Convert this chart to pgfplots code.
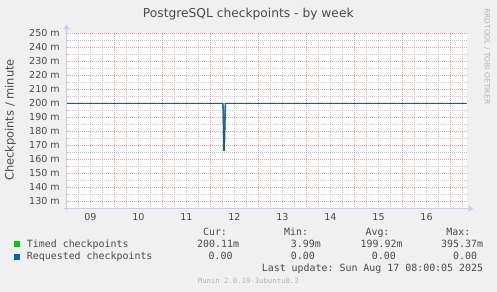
\documentclass[border=0pt]{standalone}
\usepackage{fontspec}
\setmainfont{DejaVu Sans}
\newfontfamily\mono{DejaVu Sans Mono}
\usepackage{pgfplots}
\pgfplotsset{compat=1.18}
\usetikzlibrary{arrows.meta}
\definecolor{bg}{HTML}{F0F0F0}
\definecolor{txt}{HTML}{4A4A4A}
\definecolor{ltxt}{HTML}{B4B4B4}
\definecolor{axiscol}{HTML}{C8C8FF}
\definecolor{majgrid}{HTML}{F49C9C}
\definecolor{mingrid}{HTML}{C8C8C8}
\definecolor{timed}{HTML}{00CC00}
\definecolor{req}{HTML}{0066B3}
\definecolor{linecol}{HTML}{235A8C}
\definecolor{spike}{HTML}{1E8C8C}
\tikzset{dotgrid/.style={line width=1bp, dash pattern=on 1bp off 1bp, dash phase=0.5bp}}
\begin{document}
\begin{tikzpicture}
\fill[bg] (0,0) rectangle (497bp,292bp);
\useasboundingbox (0,0) rectangle (497bp,292bp);
\begin{axis}[
  at={(66.5bp,83.5bp)}, anchor=south west,
  scale only axis, width=400bp, height=175bp,
  xmin=0, xmax=200, ymin=125, ymax=250,
  axis line style={draw=none},
  axis background/.style={fill=white},
  major tick length=0pt, minor tick length=0pt,
  xtick={12,36,60,84,108,132,156,180},
  xticklabels={09,10,11,12,13,14,15,16},
  ytick={130,140,150,160,170,180,190,200,210,220,230,240,250},
  yticklabels={130 m,140 m,150 m,160 m,170 m,180 m,190 m,200 m,210 m,220 m,230 m,240 m,250 m},
  xticklabel style={anchor=mid, yshift=-8.8bp, inner sep=0pt, font=\fontsize{9.6}{11}\selectfont, text=txt},
  yticklabel style={anchor=mid east, xshift=-6.5bp, inner sep=0pt, font=\fontsize{9.6}{11}\selectfont, text=txt},
  clip=false,
]
\pgfplotsinvokeforeach{6,12,18,30,36,42,54,60,66,78,84,90,102,108,114,126,132,138,150,156,162,174,180,186,198}{
  \draw[mingrid, dotgrid] (axis cs:#1,125) -- (axis cs:#1,250);}
\pgfplotsinvokeforeach{135,145,155,165,175,185,195,205,215,225,235,245}{
  \draw[mingrid, dotgrid] (axis cs:0,#1) -- (axis cs:200,#1);}
\pgfplotsinvokeforeach{24,48,72,96,120,144,168,192}{
  \draw[majgrid, dotgrid] (axis cs:#1,125) -- (axis cs:#1,250);}
\pgfplotsinvokeforeach{130,140,150,160,170,180,190,200,210,220,230,240,250}{
  \draw[majgrid, dotgrid] (axis cs:0,#1) -- (axis cs:200,#1);}
\addplot[spike, line width=1.4bp, line join=miter] coordinates {
 (78.2,200) (78.6,190) (78.9,166.3) (79.3,190) (79.5,200)};
\addplot[linecol, line width=1bp, line join=miter] coordinates {
 (0,200) (78.2,200) (78.6,166.3) (78.9,166.3) (79.4,200) (200,200)};
\end{axis}
\draw[axiscol, line width=1bp, -{Triangle[width=7bp,length=4.5bp]}] (63.5bp,83.5bp) -- (473bp,83.5bp);
\draw[axiscol, line width=1bp, -{Triangle[width=7bp,length=4.5bp]}] (66.5bp,81bp) -- (66.5bp,267bp);
\node[text=txt, font=\fontsize{12.3}{14}\selectfont] at (248.3bp,278bp) {PostgreSQL checkpoints - by week};
\node[text=txt, rotate=90, font=\fontsize{11.5}{13}\selectfont] at (10.5bp,172bp) {Checkpoints / minute};
\node[text=ltxt, rotate=-90, font=\fontsize{7.5}{8}\selectfont] at (487bp,235.5bp) {RRDTOOL / TOBI OETIKER};
\begin{scope}[every node/.style={inner sep=0pt, text=txt, font=\mono\fontsize{9.97}{11}\selectfont}]
\node[anchor=mid] at (215bp,59.3bp) {Cur:};
\node[anchor=mid] at (296.2bp,59.3bp) {Min:};
\node[anchor=mid] at (377.5bp,59.3bp) {Avg:};
\node[anchor=mid] at (458.3bp,59.3bp) {Max:};
\fill[timed] (14bp,44.7bp) rectangle (20bp,50.7bp);
\fill[req] (14bp,32.3bp) rectangle (20bp,38.3bp);
\node[anchor=mid west] at (26.7bp,47.7bp) {Timed checkpoints};
\node[anchor=mid west] at (26.7bp,35.3bp) {Requested checkpoints};
\node[anchor=mid east] at (239.3bp,47.7bp) {200.11m};
\node[anchor=mid east] at (321bp,47.7bp) {3.99m};
\node[anchor=mid east] at (402.7bp,47.7bp) {199.92m};
\node[anchor=mid east] at (483.3bp,47.7bp) {395.37m};
\node[anchor=mid east] at (232.7bp,35.3bp) {0.00};
\node[anchor=mid east] at (315bp,35.3bp) {0.00};
\node[anchor=mid east] at (396bp,35.3bp) {0.00};
\node[anchor=mid east] at (477.3bp,35.3bp) {0.00};
\node[anchor=mid east] at (483.3bp,23.3bp) {Last update:\ Sun Aug 17 08:00:05 2025};
\node[anchor=mid, text=ltxt, font=\mono\fontsize{7.3}{8}\selectfont] at (248.3bp,11bp) {Munin 2.0.19-3ubuntu0.3};
\end{scope}
\end{tikzpicture}
\end{document}
